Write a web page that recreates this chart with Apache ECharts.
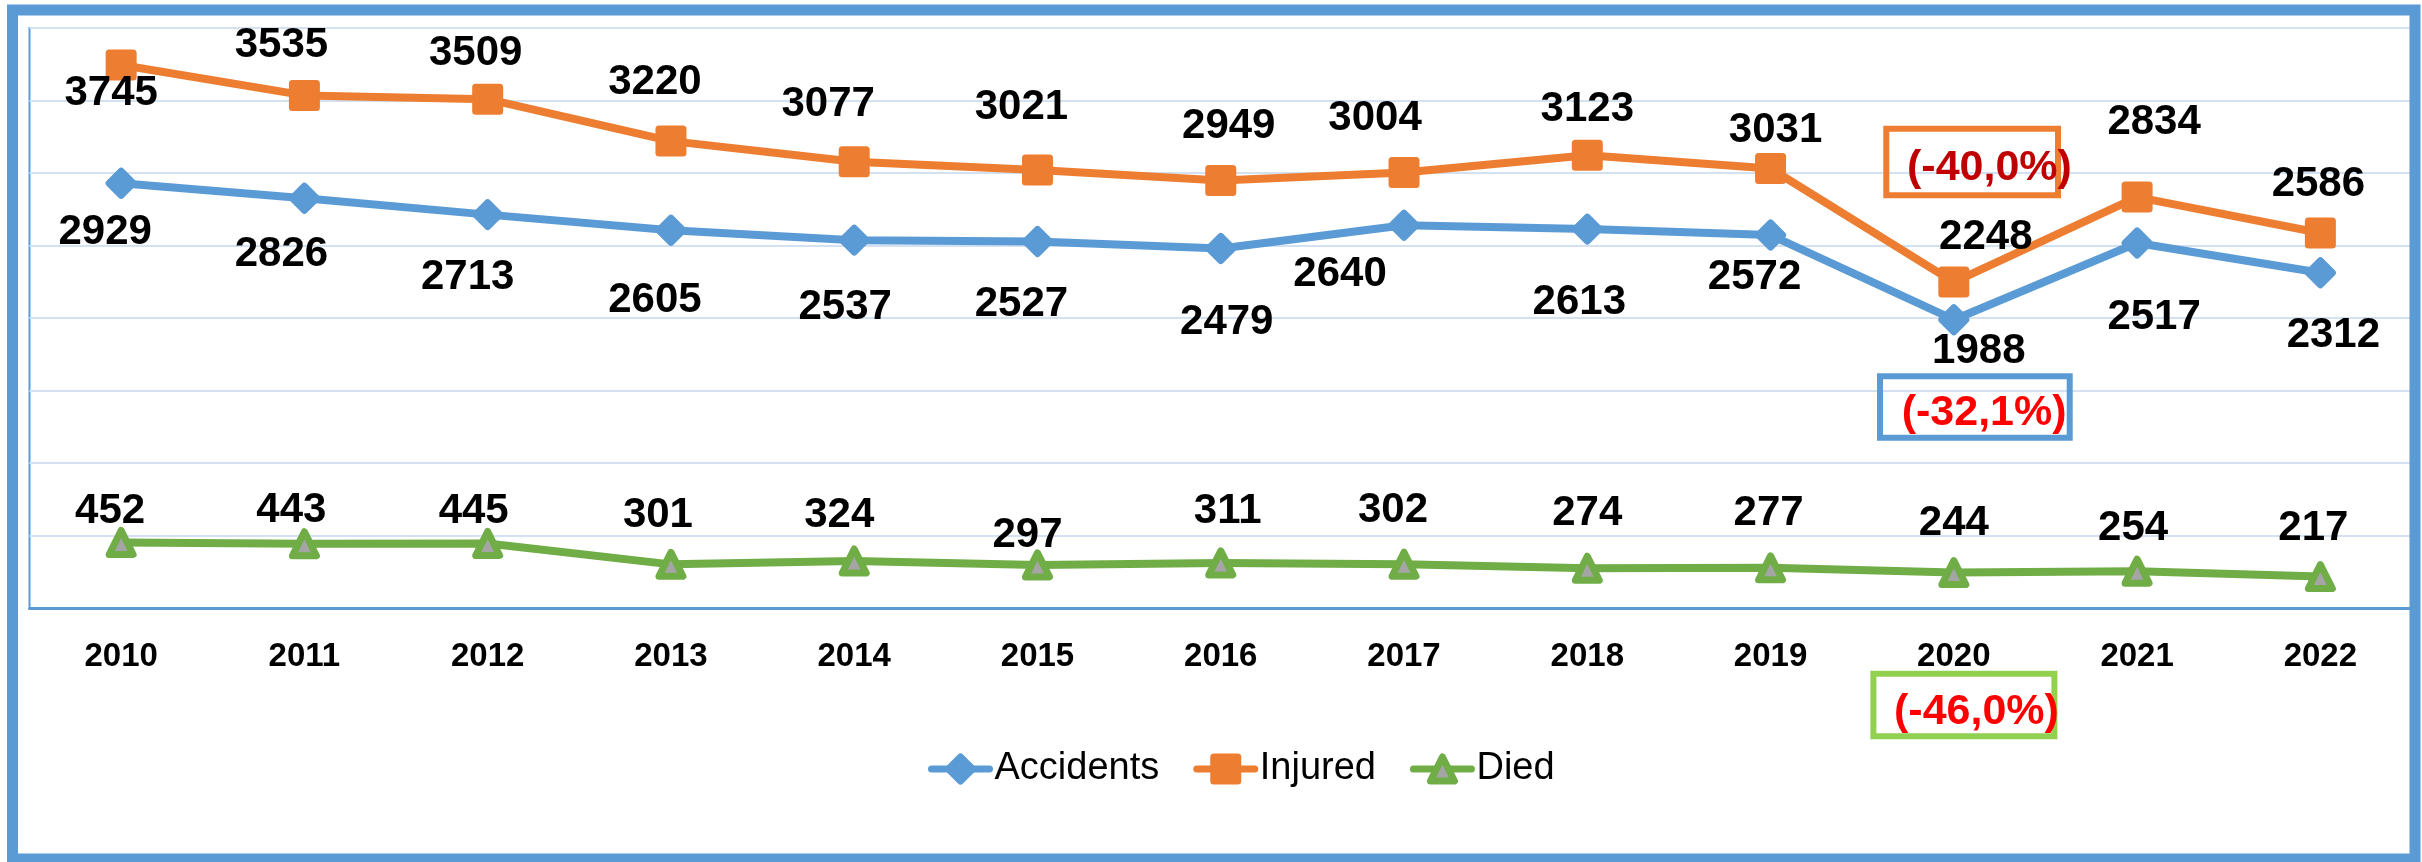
<!DOCTYPE html>
<html>
<head>
<meta charset="utf-8">
<script src="https://cdn.jsdelivr.net/npm/echarts@6/dist/echarts.min.js"></script>
<style>
  html, body { margin: 0; padding: 0; background: #fff; }
  #chart { width: 2422px; height: 862px; }
</style>
</head>
<body>
<div id="chart"></div>
<script>
// years on the x axis
var years = ['2010', '2011', '2012', '2013', '2014', '2015', '2016', '2017', '2018', '2019', '2020', '2021', '2022'];
// series values
var accidents = [2929, 2826, 2713, 2605, 2537, 2527, 2479, 2640, 2613, 2572, 1988, 2517, 2312];
var injured = [3745, 3535, 3509, 3220, 3077, 3021, 2949, 3004, 3123, 3031, 2248, 2834, 2586];
var died = [452, 443, 445, 301, 324, 297, 311, 302, 274, 277, 244, 254, 217];
// change 2020 vs 2010 (annotation boxes)
var changeAccidents = '(-32,1%)';
var changeInjured = '(-40,0%)';
var changeDied = '(-46,0%)';

// label placement (manual, like in the source chart) - px offsets from each point
var accidentsLabelOffset = [[-16, 49], [-23, 56], [-20, 63], [-16, 70], [-9, 67], [-16, 63], [6, 74], [-64, 49], [-8, 73], [-16, 42], [25, 32], [17, 74], [13, 63]];
var injuredLabelOffset = [[-10, 28], [-23, -50], [-12, -46], [-16, -59], [-26, -57], [-16, -63], [8, -54], [-29, -54], [0, -46], [5, -38], [32, -45], [17, -75], [-2, -49]];
var diedLabelOffset = [[-11, -31], [-13, -33], [-14, -32], [-13, -49], [-15, -46], [-10, -30], [7, -51], [-11, -54], [0, -55], [-2, -54], [0, -49], [-4, -43], [-7, -48]];

var FONT = '"Liberation Sans", Arial, sans-serif';

// 把数值和标签偏移合在一起
function withOffsets(values, offsets) {
    return values.map(function (v, i) {
        return { value: v, label: { offset: offsets[i] } };
    });
}

function lineSeries(name, color, symbol, values, offsets, fill) {
    return {
        name: name,
        type: 'line',
        data: withOffsets(values, offsets),
        symbol: symbol,
        symbolSize: 24,
        lineStyle: { color: color, width: 8, cap: 'round', join: 'round' },
        itemStyle: { color: fill || color, borderColor: color, borderWidth: 7, borderJoin: 'round' },
        label: {
            show: true,
            position: 'inside',
            color: '#000',
            fontFamily: FONT,
            fontWeight: 'bold',
            fontSize: 42,
            textBorderWidth: 0
        },
        emphasis: { disabled: true }
    };
}

function noteBox(x, y, w, h, stroke) {
    return {
        type: 'rect',
        shape: { x: x, y: y, width: w, height: h },
        style: { fill: 'none', stroke: stroke, lineWidth: 6 },
        z: 10
    };
}

function noteText(text, x, y, color) {
    return {
        type: 'text',
        x: x,
        y: y,
        style: {
            text: text,
            fill: color,
            font: 'bold 43px ' + FONT,
            align: 'left',
            verticalAlign: 'middle'
        },
        z: 11
    };
}

var chart = echarts.init(document.getElementById('chart'));
var option = {
    animation: false,
    backgroundColor: '#fff',
    grid: {
        left: 29.5,
        right: 10,
        top: 28,
        bottom: 254,
        show: true,
        borderColor: '#5b9bd5',
        borderWidth: 2
    },
    legend: {
        data: ['Accidents', 'Injured', 'Died'],
        left: 923,
        top: 745,
        itemWidth: 58,
        itemHeight: 30,
        itemGap: 34,
        lineStyle: { width: 7, cap: 'round' },
        itemStyle: { borderWidth: 7, borderJoin: 'round' },
        textStyle: { fontFamily: FONT, fontSize: 38, color: '#000' }
    },
    xAxis: {
        type: 'category',
        data: years,
        boundaryGap: true,
        axisTick: { show: false },
        axisLine: { lineStyle: { color: '#5b9bd5', width: 3 } },
        axisLabel: {
            margin: 32,
            color: '#000',
            fontFamily: FONT,
            fontWeight: 'bold',
            fontSize: 33
        }
    },
    yAxis: {
        type: 'value',
        min: 0,
        max: 4000,
        interval: 500,
        axisLabel: { show: false },
        axisLine: { show: false },
        axisTick: { show: false },
        splitLine: { lineStyle: { color: '#d3e1f1', width: 2 } }
    },
    series: [
        lineSeries('Accidents', '#5b9bd5', 'diamond', accidents, accidentsLabelOffset),
        lineSeries('Injured', '#ed7d31', 'rect', injured, injuredLabelOffset),
        lineSeries('Died', '#70ad47', 'triangle', died, diedLabelOffset, '#a5a5a5')
    ],
    graphic: [
        // outer frame
        {
            type: 'rect',
            shape: { x: 12.5, y: 10, width: 2402.5, height: 849 },
            style: { fill: 'none', stroke: '#5b9bd5', lineWidth: 11 },
            z: 20
        },
        noteBox(1886.3, 128.7, 171.7, 66.6, '#ed7d31'),
        noteText(changeInjured, 1907, 168, '#c00000'),
        noteBox(1880, 376.3, 189.7, 61.4, '#5b9bd5'),
        noteText(changeAccidents, 1901.7, 413, '#ff0000'),
        noteBox(1873.4, 673.7, 181, 62.6, '#92d050'),
        noteText(changeDied, 1894, 712, '#ff0000')
    ]
};
chart.setOption(option);
</script>
</body>
</html>
